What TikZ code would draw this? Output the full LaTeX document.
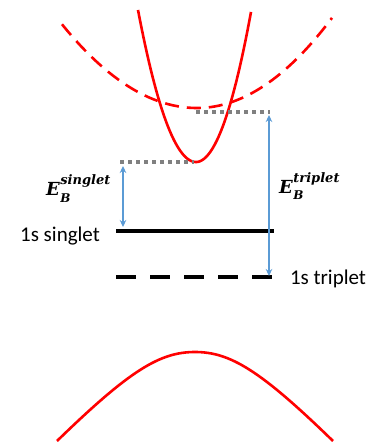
\documentclass[tikz,border=0pt]{standalone}
\usepackage{fontspec}
\setmainfont{Carlito}
\newfontfamily\ebfont{DejaVu Serif}
\usetikzlibrary{arrows.meta}
\definecolor{arrowblue}{RGB}{91,155,213}
\definecolor{dotgray}{RGB}{128,128,128}
\newcommand{\ebsym}[1]{{\ebfont\bfseries\itshape\fontsize{18}{20}\selectfont E\rlap{\kern0.5pt\raisebox{-6pt}{\fontsize{12}{12}\selectfont B}}\kern0.5pt\raisebox{11.5pt}{\fontsize{13}{13}\selectfont #1}}}
\tikzset{
  band/.style={red, line width=2.6pt, line join=round},
  bandd/.style={band, dash pattern=on 14pt off 8pt},
  level/.style={black, line width=3.8pt},
  leveld/.style={level, dash pattern=on 20pt off 14pt},
  dotline/.style={dotgray, line width=3.6pt, dash pattern=on 4pt off 4pt},
  barrow/.style={arrowblue, line width=2.2pt, {Stealth[length=7pt,width=6.5pt]}-{Stealth[length=7pt,width=6.5pt]}},
  lvltext/.style={font=\fontsize{21}{24}\selectfont, inner sep=0pt, anchor=base},
  ebtext/.style={inner sep=0pt, anchor=base west}
}
\begin{document}
\begin{tikzpicture}[x=1pt,y=-1pt]
\useasboundingbox (0,0) rectangle (378,446);
% conduction bands
\draw[bandd] plot[domain=62:197, samples=60] (\x,{108-0.0046*(\x-197)*(\x-197)})
  -- plot[domain=197:332, samples=60] (\x,{108-0.00494*(\x-197)*(\x-197)});
\draw[band] plot[domain=138:196, samples=60] (\x,{162-0.0452*(\x-196)*(\x-196)})
  -- plot[domain=196:251, samples=60] (\x,{162-0.0496*(\x-196)*(\x-196)});
% valence band
\draw[band] (57,441) .. controls (130,370) and (160,352) .. (195,352)
  .. controls (230,352) and (260,370) .. (333,441);
% coordinates
\coordinate (sgL) at (116,231);
\coordinate (sgR) at (274,231);
\coordinate (trL) at (116,277);
\coordinate (trR) at (272,277);
\coordinate (d1L) at (120,162);
\coordinate (d1R) at (194,162);
\coordinate (d2L) at (196,112);
\coordinate (d2R) at (270,112);
\coordinate (a1t) at (123,166);
\coordinate (a1b) at (123,227);
\coordinate (a2t) at (269,115);
\coordinate (a2b) at (269,276);
% gray dotted
\draw[dotline] (d1L) -- (d1R);
\draw[dotline] (d2L) -- (d2R);
% levels
\draw[level] (sgL) -- (sgR);
\draw[leveld] (trL) -- (trR);
% arrows
\draw[barrow] (a1t) -- (a1b);
\draw[barrow] (a2t) -- (a2b);
% labels
\node[lvltext] (ls) at (60,241) {1s singlet};
\node[lvltext] (lt) at (328,284) {1s triplet};
\node[ebtext] (es) at (46,196) {\ebsym{singlet}};
\node[ebtext] (et) at (279,193.5) {\ebsym{triplet}};
\end{tikzpicture}
\end{document}
